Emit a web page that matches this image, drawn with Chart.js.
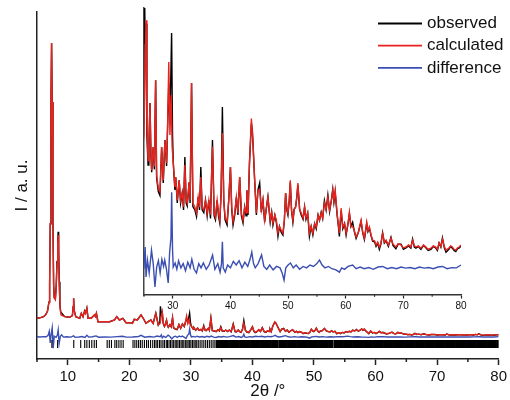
<!DOCTYPE html>
<html>
<head>
<meta charset="utf-8">
<script src="https://cdn.jsdelivr.net/npm/chart.js@4.4.1/dist/chart.umd.min.js"></script>
<style>
  body { margin: 0; background: #fff; }
  #wrap { position: relative; width: 510px; height: 400px; }
  #wrap canvas { position: absolute; left: 0; top: 0; }
</style>
</head>
<body>
<div id="wrap">
  <canvas id="main" width="510" height="400"></canvas>
  <canvas id="inset" width="510" height="400"></canvas>
</div>
<script>
var FONT = "'Liberation Sans', Arial, sans-serif";

// [2theta, intensity]
var calculated = [
  [5.0,740],[5.6,760],[6.07,793],[6.4,860],[6.7,980],[6.95,1300],[7.05,1900],[7.15,4000],[7.27,8200],[7.37,10231],
  [7.47,8200],[7.59,4000],[7.7,1900],[7.8,1450],[7.98,1380],[8.12,1800],[8.25,2600],[8.36,3300],[8.44,3610],[8.52,3000],
  [8.62,1900],[8.75,1100],[8.9,852],[9.5,793],[10.3,772],[10.75,830],[10.88,1150],[10.95,1428],[11.05,1000],[11.3,793],
  [11.94,738],[12.2,910],[12.47,793],[12.74,980],[12.9,900],[13.1,1083],[13.3,738],[13.8,738],[14.35,852],[14.5,800],
  [14.65,910],[14.9,621],[15.7,621],[16.8,621],[17.6,679],[17.95,793],[18.4,679],[18.75,720],[18.95,738],[19.47,586],
  [20.27,586],[20.5,565],[20.8,700],[21.3,679],[21.9,852],[22.26,738],[22.7,565],[23.2,640],[23.5,679],[23.87,565],
  [24.3,910],[24.7,507],[25.0,560],[25.2,820],[25.35,962],[25.5,600],[25.7,470],[25.85,520],[26.04,672],[26.2,500],
  [26.33,437],[26.6,518],[26.8,450],[27.02,752],[27.19,420],[27.48,375],[27.77,361],[28.06,518],[28.34,402],[28.63,543],
  [28.92,462],[29.1,600],[29.3,816],[29.5,560],[29.72,700],[29.88,520],[30.08,462],[30.36,378],[30.5,413],[30.77,332],
  [31.1,402],[31.35,332],[31.63,357],[31.86,308],[32.09,455],[32.32,332],[32.5,322],[32.84,395],[33.0,332],[33.25,742],
  [33.48,322],[33.82,308],[34.11,287],[34.4,343],[34.63,308],[34.86,413],[35.09,308],[35.38,298],[35.67,332],[35.96,287],
  [36.25,332],[36.54,280],[36.88,520],[37.17,287],[37.4,273],[37.69,332],[37.92,287],[38.15,262],[38.38,357],[38.6,567],
  [38.84,332],[39.07,273],[39.42,257],[39.7,332],[40.0,448],[40.22,308],[40.45,257],[40.74,287],[41.03,343],[41.3,287],
  [41.6,413],[41.9,287],[42.18,262],[42.47,308],[42.7,287],[42.85,367],[43.05,287],[43.3,462],[43.63,618],[43.9,540],
  [44.2,402],[44.5,287],[44.77,367],[45.07,370],[45.36,298],[45.64,332],[45.93,262],[46.2,300],[46.5,343],[46.9,262],
  [47.15,290],[47.37,252],[47.7,280],[47.96,262],[48.24,217],[48.5,240],[48.8,227],[49.1,217],[49.35,260],[49.57,357],
  [49.8,300],[49.97,287],[50.2,330],[50.38,402],[50.6,300],[50.83,262],[51.05,300],[51.3,308],[51.5,340],[51.7,392],
  [52.0,300],[52.28,287],[52.6,270],[52.86,308],[53.1,270],[53.4,287],[53.7,217],[54.0,240],[54.3,217],[54.6,250],
  [54.88,238],[55.2,280],[55.45,262],[55.74,287],[56.0,270],[56.3,322],[56.6,300],[56.9,343],[57.2,298],[57.5,330],
  [57.75,367],[57.95,330],[58.17,367],[58.5,287],[58.7,250],[58.9,217],[59.2,304],[59.5,238],[59.8,250],[60.07,217],
  [60.4,250],[60.64,290],[60.9,240],[61.2,240],[61.5,225],[61.8,203],[62.2,220],[62.66,262],[62.95,220],[63.24,199],
  [63.64,255],[63.85,225],[64.1,238],[64.4,210],[64.67,192],[65.0,190],[65.26,175],[65.55,185],[65.83,168],[66.1,180],
  [66.4,215],[66.7,185],[67.0,192],[67.4,175],[67.85,199],[68.2,178],[68.7,168],[69.1,180],[69.6,175],[70.0,165],
  [70.45,168],[70.9,175],[71.3,168],[71.6,192],[71.9,172],[72.18,168],[72.6,172],[73.05,164],[73.5,175],[73.9,168],
  [74.3,160],[74.78,164],[75.2,172],[75.6,168],[75.9,160],[76.2,182],[76.5,170],[76.78,196],[77.1,170],[77.4,157],
  [77.9,164],[78.2,172],[78.5,168],[78.8,160],[79.1,157],[79.4,165],[79.7,168],[80.0,175]
];

var observed = [
  [5.0,740],[5.6,760],[6.07,793],[6.4,860],[6.7,980],[6.95,1300],[7.05,1900],[7.15,4000],[7.27,8200],[7.37,10231],
  [7.47,8200],[7.59,4000],[7.7,1900],[7.8,1450],[7.98,1400],[8.12,1850],[8.25,2700],[8.36,3400],[8.44,3724],[8.52,3150],
  [8.62,2000],[8.72,1200],[8.85,960],[9.5,793],[10.3,772],[10.75,830],[10.88,1150],[10.95,1428],[11.05,1000],[11.3,793],
  [11.94,738],[12.2,910],[12.47,793],[12.74,1000],[12.9,930],[13.1,1083],[13.3,738],[13.8,738],[14.35,852],[14.5,800],
  [14.65,910],[14.9,621],[15.7,621],[16.8,621],[17.6,679],[17.95,793],[18.4,679],[18.75,720],[18.95,738],[19.47,586],
  [20.27,586],[20.5,565],[20.8,700],[21.3,679],[21.9,852],[22.26,738],[22.7,565],[23.2,640],[23.5,679],[23.87,565],
  [24.3,910],[24.7,507],[24.95,600],[25.05,1150],[25.2,880],[25.35,950],[25.5,560],[25.7,455],[25.85,520],[26.04,672],
  [26.2,490],[26.33,430],[26.6,518],[26.8,440],[27.02,752],[27.19,410],[27.48,362],[27.77,348],[28.06,518],[28.34,392],
  [28.63,543],[28.92,452],[29.1,590],[29.3,740],[29.5,600],[29.79,917],[29.95,560],[30.08,462],[30.36,368],[30.5,413],
  [30.77,322],[31.1,402],[31.35,322],[31.63,357],[31.86,298],[32.09,483],[32.32,322],[32.5,312],[32.84,395],[33.0,322],
  [33.25,742],[33.48,310],[33.82,298],[34.11,275],[34.4,343],[34.63,298],[34.86,448],[35.09,298],[35.38,288],[35.67,332],
  [35.96,277],[36.25,332],[36.54,268],[36.88,543],[37.17,277],[37.4,263],[37.69,332],[37.92,277],[38.15,252],[38.38,357],
  [38.6,658],[38.84,332],[39.07,263],[39.42,245],[39.7,332],[40.0,448],[40.22,298],[40.45,245],[40.74,280],[41.03,343],
  [41.3,280],[41.6,413],[41.9,277],[42.18,252],[42.47,308],[42.7,277],[42.85,367],[43.05,280],[43.3,462],[43.63,600],
  [43.8,577],[44.2,402],[44.5,280],[44.77,367],[45.07,392],[45.36,290],[45.64,332],[45.93,255],[46.2,300],[46.5,343],
  [46.9,255],[47.15,290],[47.37,245],[47.7,280],[47.96,255],[48.24,205],[48.5,240],[48.8,220],[49.1,210],[49.35,260],
  [49.57,357],[49.8,295],[49.97,280],[50.2,330],[50.38,395],[50.6,295],[50.83,255],[51.05,300],[51.3,308],[51.5,340],
  [51.7,385],[52.0,300],[52.28,280],[52.6,265],[52.86,308],[53.1,265],[53.4,287],[53.7,205],[54.0,240],[54.3,210],
  [54.6,250],[54.88,232],[55.2,280],[55.45,262],[55.74,290],[56.0,268],[56.3,330],[56.6,298],[56.9,350],[57.2,292],
  [57.5,330],[57.75,370],[57.95,325],[58.17,360],[58.5,282],[58.7,245],[58.9,205],[59.2,295],[59.5,232],[59.8,250],
  [60.07,210],[60.4,250],[60.64,285],[60.9,240],[61.2,255],[61.5,222],[61.8,198],[62.2,220],[62.66,258],[62.95,218],
  [63.24,194],[63.64,250],[63.85,222],[64.1,235],[64.4,207],[64.67,188],[65.0,186],[65.26,170],[65.55,182],[65.83,160],
  [66.1,178],[66.4,218],[66.7,182],[67.0,190],[67.4,170],[67.85,202],[68.2,174],[68.7,162],[69.1,178],[69.6,178],
  [70.0,160],[70.45,165],[70.9,172],[71.3,164],[71.6,196],[71.9,168],[72.18,164],[72.6,170],[73.05,160],[73.5,174],
  [73.9,165],[74.3,156],[74.78,160],[75.2,170],[75.6,165],[75.9,156],[76.2,182],[76.5,168],[76.78,200],[77.1,166],
  [77.4,150],[77.9,160],[78.2,170],[78.5,164],[78.8,156],[79.1,152],[79.4,162],[79.7,165],[80.0,172]
];

var difference = [
  [5.0,100],[5.5,95],[6.0,105],[6.5,100],[6.8,150],[6.99,290],[7.15,-110],[7.3,180],[7.47,410],[7.63,-290],
  [7.8,120],[8.1,80],[8.3,150],[8.44,340],[8.6,-130],[8.8,120],[9.0,170],[9.3,90],[9.8,100],[10.5,90],
  [10.95,130],[11.2,80],[11.8,95],[12.3,110],[12.8,80],[13.1,150],[13.4,90],[14.0,100],[14.6,130],[15.0,85],
  [16.0,95],[17.0,90],[18.0,105],[18.9,120],[19.5,90],[20.5,95],[21.5,110],[21.9,150],[22.5,85],[23.3,110],
  [24.0,90],[24.5,125],[25.0,100],[25.2,168],[25.35,63],[25.6,122],[25.9,77],[26.3,157],[26.6,110],[26.9,28],
  [27.2,98],[27.5,120],[27.8,77],[28.1,125],[28.4,100],[28.6,122],[28.9,90],[29.2,42],[29.45,150],[29.68,200],
  [29.8,360],[29.95,160],[30.07,98],[30.4,112],[30.7,90],[31.0,120],[31.4,95],[31.8,110],[32.2,85],[32.6,115],
  [33.0,95],[33.3,125],[33.7,90],[34.1,77],[34.5,110],[34.9,95],[35.3,112],[35.8,90],[36.3,105],[36.9,140],
  [37.3,90],[37.8,110],[38.2,80],[38.45,110],[38.6,186],[38.75,95],[39.1,80],[39.5,105],[40.0,95],[40.5,118],
  [41.0,105],[41.5,120],[42.0,95],[42.5,115],[43.0,100],[43.4,125],[43.7,150],[44.0,110],[44.3,95],[44.8,110],
  [45.4,140],[45.8,100],[46.3,90],[46.8,105],[47.4,88],[48.0,100],[48.6,95],[49.0,75],[49.3,52],[49.6,95],
  [50.0,105],[50.4,112],[50.9,95],[51.4,105],[52.0,90],[52.6,100],[53.2,95],[53.8,105],[54.4,100],[55.0,110],
  [55.45,122],[55.9,105],[56.4,95],[57.0,100],[57.6,92],[58.3,88],[58.9,80],[59.3,95],[59.8,90],[60.4,100],
  [61.2,105],[61.8,92],[62.5,98],[63.2,92],[64.0,96],[64.8,90],[65.6,98],[66.4,100],[67.2,92],[68.0,96],
  [68.8,92],[69.6,98],[70.4,94],[71.2,96],[72.0,92],[72.8,98],[73.6,94],[74.4,96],[75.2,92],[76.0,98],
  [76.8,100],[77.6,92],[78.4,96],[79.2,95],[80.0,105]
];

// reflection positions (tick marks under the pattern)
var reflections = [
  7.42,8.35,10.97,12.1,12.75,13.1,13.5,13.9,14.3,14.65,16.4,16.75,17.1,17.65,17.95,18.3,18.65,19.0,
  20.6,20.9,21.2,21.5,21.8,22.1,22.45,22.8,23.1,23.45,23.8,24.1,24.35,24.6,24.9,25.15,25.45,25.7,26.0,26.2,
  26.45,26.7,26.95,27.2,27.45,27.7,27.9,28.15,28.4,28.6,28.85,29.1,29.35,29.55,29.8,30.0,30.25,30.5,30.7,
  30.95,31.2,31.5,31.8,32.1,32.4,32.7,33.0,33.3,33.6,33.9,
  34.2,34.4,34.55,34.75,34.9,35.1,35.3,35.45,35.65,35.8,36.0,36.2,36.35,36.55,36.7,36.9,37.1,37.25,37.45,37.6,
  37.8,38.0,38.15,38.35,38.5,38.7,38.9,39.05,39.25,39.4,39.6,39.8,39.95,40.15,40.3,40.5,40.7,40.85,41.05,41.2,
  41.4,41.6,41.75,41.95,42.1,42.3,42.5,42.65,42.85,43.0,43.2,43.4,43.55,43.75,43.9,44.05,
  44.35,44.55,44.7,44.9,45.05,45.25,45.45,45.6,45.8,45.95,46.15,46.35,46.5,46.7,46.85,47.05,47.25,47.4,47.6,
  47.75,47.95,48.15,48.3,48.5,48.65,48.85,49.05,49.2,49.4,49.55,49.75,49.95,50.1,50.3,50.45,50.65,50.85,51.0,
  51.2,51.35,51.55,51.75,51.9,52.1,52.25,52.45,52.65,52.8,52.95,
  53.3,53.45,53.65,53.8,54.0,54.2,54.35,54.55,54.7,54.9,55.1,55.25,55.45,55.6,55.8,56.0,56.15,56.35,56.5,56.7,
  56.9,57.05,57.25,57.4,57.6,57.8,57.95,58.15,58.3,58.5,58.7,58.85,59.05,59.2,59.4,59.6,59.75,59.95,60.1,60.3,
  60.5,60.65,60.85,61.0,61.2,61.4,61.55,61.75,61.9,62.1,62.3,62.45,62.65,62.8,63.0,63.2,63.35,63.55,63.7,63.9,
  64.1,64.25,64.45,64.6,64.8,65.0,65.15,65.35,65.5,65.7,65.9,66.05,66.25,66.4,66.6,66.8,66.95,67.15,67.3,67.5,
  67.7,67.85,68.05,68.2,68.4,68.6,68.75,68.95,69.1,69.3,69.5,69.65,69.85,70.0,70.2,70.4,70.55,70.75,70.9,71.1,
  71.3,71.45,71.65,71.8,72.0,72.2,72.35,72.55,72.7,72.9,73.1,73.25,73.45,73.6,73.8,74.0,74.15,74.35,74.5,74.7,
  74.9,75.05,75.25,75.4,75.6,75.8,75.95,76.15,76.3,76.5,76.7,76.85,77.05,77.2,77.4,77.6,77.75,77.95,78.1,78.3,
  78.5,78.65,78.85,79.0,79.2,79.4,79.55,79.75,79.9
];
var reflectionLevel = -148;

var seriesLabels = ['observed', 'calculated', 'difference'];
var seriesColors = ['#000000', '#e8231e', '#3b4fb2'];

function pts(arr) {
  return arr.map(function(p) { return { x: p[0], y: p[1] }; });
}

function lineSet(i, arr, order) {
  return {
    label: seriesLabels[i], data: pts(arr), showLine: true, pointRadius: 0,
    borderColor: seriesColors[i], borderWidth: 1.4, order: order
  };
}

// shorter minor ticks (every 5 degrees, not labelled)
var minorTicks = {
  id: 'minorTicks',
  afterDraw: function(chart, args, opts) {
    var sc = chart.scales.x, ctx = chart.ctx;
    ctx.save();
    ctx.strokeStyle = opts.color;
    ctx.lineWidth = opts.width;
    sc.ticks.forEach(function(t) {
      if (t.value % 10 !== 0) {
        var px = sc.getPixelForValue(t.value);
        ctx.beginPath();
        ctx.moveTo(px, sc.top);
        ctx.lineTo(px, sc.top + opts.length);
        ctx.stroke();
      }
    });
    ctx.restore();
  }
};

var insetLegend = {
  id: 'insetLegend',
  afterDraw: function(chart) {
    var ctx = chart.ctx, area = chart.chartArea;
    ctx.save();
    ctx.font = '17px ' + FONT;
    ctx.textBaseline = 'middle';
    ctx.fillStyle = '#111';
    chart.data.datasets.forEach(function(ds, i) {
      var y = area.top + 15.5 + i * 22.2;
      ctx.strokeStyle = ds.borderColor;
      ctx.lineWidth = 1.8;
      ctx.beginPath();
      ctx.moveTo(area.right - 83, y);
      ctx.lineTo(area.right - 39, y);
      ctx.stroke();
      ctx.fillText(ds.label, area.right - 34, y);
    });
    ctx.restore();
  }
};

function majorTickColor(c) {
  return c.tick && c.tick.value % 10 === 0 ? '#222' : 'rgba(0,0,0,0)';
}

new Chart(document.getElementById('main'), {
  type: 'scatter',
  data: {
    datasets: [
      lineSet(0, observed, 3),
      lineSet(1, calculated, 2),
      lineSet(2, difference, 1),
      {
        label: 'reflections', data: reflections.map(function(x) { return { x: x, y: reflectionLevel }; }),
        pointStyle: 'line', rotation: 90, pointRadius: 4, borderColor: '#000', order: 0,
        // the high-angle reflections merge into a solid band
        borderWidth: function(c) { return c.raw && c.raw.x > 34 ? 1.9 : 1.1; }
      }
    ]
  },
  options: {
    responsive: false, animation: false,
    layout: { padding: { top: 12, right: 8, left: 0, bottom: 0 } },
    plugins: {
      legend: { display: false }, tooltip: { enabled: false },
      minorTicks: { length: 3, width: 1.5, color: '#222' }
    },
    scales: {
      x: {
        type: 'linear', min: 5, max: 80,
        afterFit: function(s) { s.height = 41; },
        ticks: {
          stepSize: 5, autoSkip: false, maxRotation: 0, padding: 3, color: '#111',
          font: { size: 15, family: FONT },
          callback: function(v) { return v % 10 === 0 ? v : ''; }
        },
        grid: { drawOnChartArea: false, tickLength: 6, tickWidth: 1.5, tickColor: majorTickColor },
        border: { color: '#222', width: 1.5 },
        title: { display: true, text: '2θ /°', color: '#111', font: { size: 17, family: FONT, lineHeight: 1 }, padding: { top: 0, bottom: 0 } }
      },
      y: {
        min: -666, max: 11300,
        afterFit: function(s) { s.width = 37; },
        ticks: { display: false }, grid: { display: false },
        border: { color: '#222', width: 1.5 },
        title: { display: true, text: 'I / a. u.', color: '#111', font: { size: 17, family: FONT, lineHeight: 1 }, padding: { top: 14, bottom: 0 } }
      }
    }
  },
  plugins: [minorTicks]
});

new Chart(document.getElementById('inset'), {
  type: 'scatter',
  data: {
    datasets: [
      lineSet(0, observed, 3),
      lineSet(1, calculated, 2),
      lineSet(2, difference, 1)
    ]
  },
  options: {
    responsive: false, animation: false,
    layout: { padding: { top: 8, right: 49, left: 144, bottom: 0 } },
    plugins: {
      legend: { display: false }, tooltip: { enabled: false },
      minorTicks: { length: 1.8, width: 1.2, color: '#333' }
    },
    scales: {
      x: {
        type: 'linear', min: 25, max: 80,
        afterFit: function(s) { s.height = 105; },
        ticks: {
          stepSize: 5, autoSkip: false, maxRotation: 0, padding: 2, color: '#111',
          font: { size: 10, family: FONT },
          callback: function(v) { return v % 10 === 0 ? v : ''; }
        },
        grid: { drawOnChartArea: false, tickLength: 3.5, tickWidth: 1.2, tickColor: majorTickColor },
        border: { color: '#333', width: 1.5 }
      },
      y: {
        min: 0, max: 1005,
        afterFit: function(s) { s.width = 0; },
        ticks: { display: false }, grid: { display: false },
        border: { color: '#444', width: 1.5 }
      }
    }
  },
  plugins: [minorTicks, insetLegend]
});
</script>
</body>
</html>
